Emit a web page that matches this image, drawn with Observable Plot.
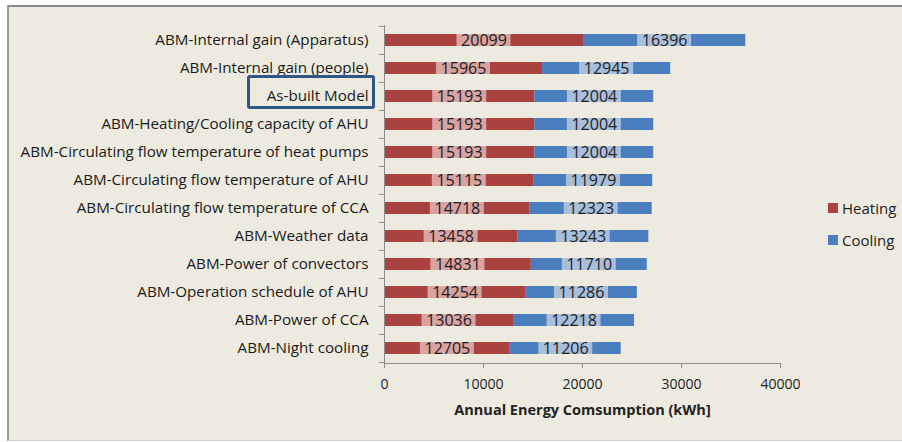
<!DOCTYPE html>
<html><head><meta charset="utf-8">
<script src="https://cdn.jsdelivr.net/npm/d3@7"></script>
<script src="https://cdn.jsdelivr.net/npm/@observablehq/plot@0.6"></script>
<style>
html,body{margin:0;background:#fff;overflow:hidden;}
#wrap{position:relative;width:902px;height:442px;overflow:hidden;background:#fff;font-family:"Open Sans",sans-serif;}
#bg{position:absolute;left:7px;top:5px;width:895px;height:436px;background:#EDEAE0;border-top:2px solid #8a8a8a;border-left:2px solid #9a9a9a;border-bottom:1px solid #d0d0d0;box-sizing:border-box;}
#chart{position:absolute;left:0;top:0;}
#chart svg{background:transparent;}
#hl{position:absolute;left:247px;top:75px;width:128px;height:34px;border:3px solid #2F5686;border-radius:3px;box-sizing:border-box;}
.leg{position:absolute;left:828px;font-size:15px;color:#222;display:flex;align-items:center;}
.sw{width:10px;height:10px;margin-right:4px;}
</style></head><body><div id="wrap"><div id="bg"></div><div id="chart"></div><div id="hl"></div><div id="legend"></div></div>
<script>
const categories = [
  "ABM-Internal gain (Apparatus)",
  "ABM-Internal gain (people)",
  "As-built Model",
  "ABM-Heating/Cooling capacity of AHU",
  "ABM-Circulating flow temperature of heat pumps",
  "ABM-Circulating flow temperature of AHU",
  "ABM-Circulating flow temperature of CCA",
  "ABM-Weather data",
  "ABM-Power of convectors",
  "ABM-Operation schedule of AHU",
  "ABM-Power of CCA",
  "ABM-Night cooling"
];
const heating = [20099, 15965, 15193, 15193, 15193, 15115, 14718, 13458, 14831, 14254, 13036, 12705];
const cooling = [16396, 12945, 12004, 12004, 12004, 11979, 12323, 13243, 11710, 11286, 12218, 11206];
const seriesNames = ["Heating", "Cooling"];
const seriesColors = ["#AA4240", "#4A7EBE"];
const labelColors = ["#D8A3A0", "#A8BFDC"];
const xTicks = [0, 10000, 20000, 30000, 40000];
const xDomain = [0, 40000];
const xTitle = "Annual Energy Comsumption (kWh]";

const W = 902, H = 442, mL = 384, mR = 122, mT = 25, mB = 79;
const pxPerUnit = (W - mL - mR) / (xDomain[1] - xDomain[0]);
const step = (H - mT - mB) / categories.length;
const labelHalf = 27 / pxPerUnit;
const tickLen = 5 / pxPerUnit;

const rows = categories.flatMap((c, i) => [
  {cat: c, series: "Heating", value: heating[i], start: 0},
  {cat: c, series: "Cooling", value: cooling[i], start: heating[i]}
]);
rows.forEach(d => { d.end = d.start + d.value; d.mid = d.start + d.value / 2; });

const plot = Plot.plot({
  width: W, height: H,
  marginLeft: mL, marginRight: mR, marginTop: mT, marginBottom: mB,
  style: {fontFamily: "'Open Sans', sans-serif", color: "#222", background: "transparent"},
  x: {domain: xDomain},
  y: {domain: categories, paddingInner: 0.574, paddingOuter: 0.287},
  color: {domain: seriesNames, range: seriesColors},
  marks: [
    Plot.barX(rows, {y: "cat", x1: "start", x2: "end", fill: "series"}),
    ...seriesNames.map((s, k) => Plot.barX(rows.filter(d => d.series === s), {
      y: "cat", x1: d => d.mid - labelHalf, x2: d => d.mid + labelHalf, fill: labelColors[k]
    })),
    Plot.text(rows, {y: "cat", x: "mid", text: d => String(d.value), fontSize: 16, fill: "#1e1e1e"}),
    Plot.frame({anchor: "bottom", stroke: "#8c8c8c"}),
    Plot.frame({anchor: "left", stroke: "#8c8c8c"}),
    Plot.ruleY(categories, {y: d => d, x1: -tickLen, x2: 0, dy: -step / 2, stroke: "#8c8c8c"}),
    Plot.ruleY(categories.slice(-1), {y: d => d, x1: -tickLen, x2: 0, dy: step / 2, stroke: "#8c8c8c"}),
    Plot.axisY({tickSize: 0, tickPadding: 16, fontSize: 15.2, label: null, fill: "#1a1a1a"}),
    Plot.axisX({ticks: xTicks, tickSize: 5, tickPadding: 11, fontSize: 14, label: null, tickFormat: d => String(d), stroke: "#8c8c8c", fill: "#222"}),
    Plot.text([xTitle], {frameAnchor: "bottom", text: d => d, dy: 51, fontSize: 14.5, fontWeight: "bold", fill: "#222"})
  ]
});
document.getElementById("chart").appendChild(plot);

const legend = document.getElementById("legend");
const legendTop = [198, 230];
seriesNames.forEach((s, k) => {
  const row = document.createElement("div");
  row.className = "leg";
  row.style.top = legendTop[k] + "px";
  const sw = document.createElement("div");
  sw.className = "sw";
  sw.style.background = seriesColors[k];
  row.appendChild(sw);
  row.appendChild(document.createTextNode(s));
  legend.appendChild(row);
});
</script></body></html>
